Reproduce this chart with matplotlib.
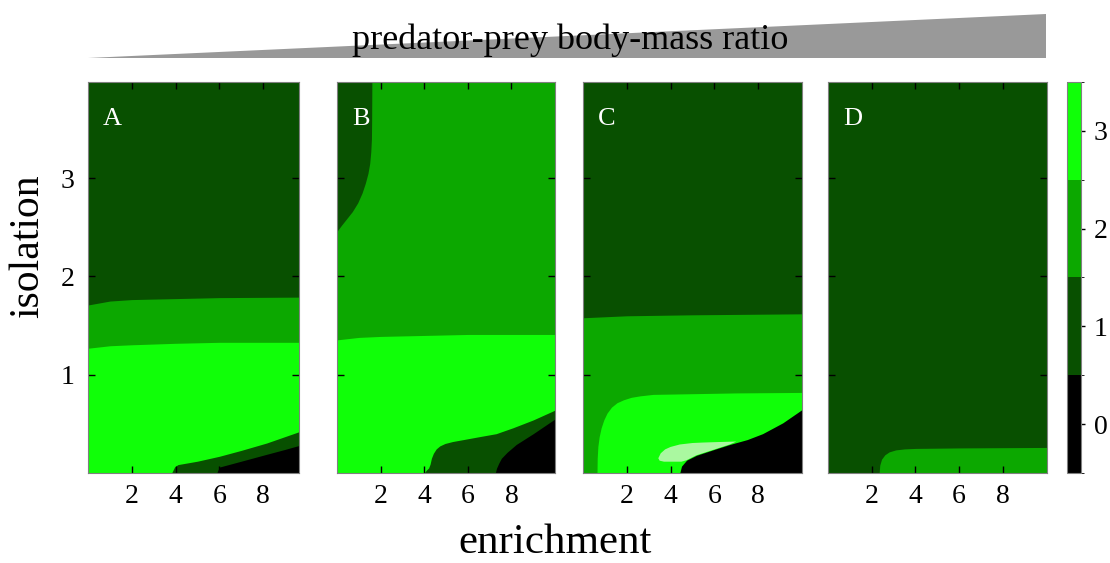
import matplotlib
matplotlib.use("Agg")
import matplotlib.pyplot as plt
import numpy as np
from matplotlib.colors import ListedColormap, BoundaryNorm
from matplotlib.cm import ScalarMappable
from matplotlib.patches import Polygon

plt.rcParams.update({'font.family': 'Liberation Serif', 'font.size': 20})

# level colours: 0 = black, 1 = dark green, 2 = mid green, 3 = bright green, 4 = pale green
level_colors = ['#000000', '#085000', '#0ca800', '#10ff08', '#aaf8a0']
level_ticks = [0, 1, 2, 3]

panel_names = ['A', 'B', 'C', 'D']
x_max = [9.64, 10.0, 10.0, 10.0]
y_max = 3.98
x_ticks = [2, 4, 6, 8]
y_ticks = [1, 2, 3]

# --- panel A ---
a_bg = 1
a_l2_x = [0, 1, 2, 4, 6, 9.64]
a_l2_y = [1.71, 1.75, 1.765, 1.775, 1.785, 1.79]
a_l3_x = [0, 1, 2, 4, 6, 9.64]
a_l3_y = [1.27, 1.295, 1.305, 1.32, 1.33, 1.33]
a_l1_x = [3.82, 3.95, 4.1, 5.0, 6.0, 7.0, 8.16, 9.64]
a_l1_y = [0.0, 0.06, 0.085, 0.12, 0.17, 0.23, 0.305, 0.42]
a_l0_x = [5.88, 6.0, 7.0, 8.16, 9.0, 9.64]
a_l0_y = [0.0, 0.06, 0.12, 0.19, 0.24, 0.28]

# --- panel B ---
b_bg = 2
b_top1_x = [0, 0.2, 0.45, 0.7, 0.95, 1.15, 1.3, 1.42, 1.5, 1.55, 1.58, 1.59, 1.6]
b_top1_y = [2.46, 2.52, 2.59, 2.66, 2.75, 2.85, 2.95, 3.05, 3.15, 3.27, 3.4, 3.6, 3.98]
b_l3_x = [0, 1, 2, 4, 6, 10]
b_l3_y = [1.355, 1.38, 1.39, 1.40, 1.41, 1.41]
b_l1_x = [4.0, 4.1, 4.2, 4.27, 4.33, 4.42, 4.55, 4.71, 4.95, 5.3, 5.8, 6.54, 7.3, 8.07, 9.0, 10.0]
b_l1_y = [0.0, 0.03, 0.05, 0.09, 0.15, 0.2, 0.245, 0.275, 0.3, 0.32, 0.34, 0.37, 0.40, 0.46, 0.54, 0.64]
b_l0_x = [7.26, 7.32, 7.42, 7.54, 7.8, 8.22, 9.0, 10.0]
b_l0_y = [0.0, 0.05, 0.1, 0.15, 0.21, 0.29, 0.40, 0.55]

# --- panel C ---
c_bg = 1
c_l2_x = [0, 2, 5, 10]
c_l2_y = [1.58, 1.60, 1.61, 1.62]
c_l3_x = [0.64, 0.65, 0.68, 0.74, 0.83, 0.95, 1.1, 1.3, 1.55, 1.85, 2.2, 2.6, 3.2, 4.5, 7.0, 10.0]
c_l3_y = [0.0, 0.15, 0.27, 0.37, 0.46, 0.54, 0.61, 0.67, 0.715, 0.745, 0.77, 0.785, 0.80, 0.805, 0.815, 0.82]
c_l4_x = [3.44, 3.55, 3.75, 4.0, 4.42, 5.0, 5.5, 6.2, 7.0, 6.7, 5.18, 4.73, 4.5, 3.7, 3.5]
c_l4_y = [0.15, 0.2, 0.24, 0.265, 0.29, 0.305, 0.31, 0.315, 0.32, 0.29, 0.18, 0.13, 0.115, 0.115, 0.125]
c_l0_x = [4.42, 4.5, 4.73, 5.18, 6.0, 6.7, 7.5, 8.2, 9.12, 10.0]
c_l0_y = [0.0, 0.07, 0.13, 0.18, 0.24, 0.29, 0.34, 0.40, 0.51, 0.645]

# --- panel D ---
d_bg = 1
d_l2_x = [2.34, 2.37, 2.45, 2.6, 2.8, 3.1, 3.5, 4.0, 6.0, 10.0]
d_l2_y = [0.0, 0.08, 0.14, 0.185, 0.215, 0.235, 0.245, 0.25, 0.255, 0.26]

fig = plt.figure(figsize=(11.1, 5.63), dpi=100)

lefts = [0.0793, 0.3036, 0.5252, 0.7459]
widths = [0.1901, 0.1964, 0.1973, 0.1970]
bottom, height = 0.1599, 0.6945
axes = [fig.add_axes([l, bottom, w, height]) for l, w in zip(lefts, widths)]


def fill_below(ax, x, y, lvl):
    ax.fill_between(x, 0, y, color=level_colors[lvl], lw=0, zorder=1)


def fill_above(ax, x, y, lvl):
    ax.fill_between(x, y, y_max, color=level_colors[lvl], lw=0, zorder=1)


def background(ax, lvl, xm):
    ax.fill_between([0, xm], 0, y_max, color=level_colors[lvl], lw=0, zorder=0)


axA, axB, axC, axD = axes

background(axA, a_bg, x_max[0])
fill_below(axA, a_l2_x, a_l2_y, 2)
fill_below(axA, a_l3_x, a_l3_y, 3)
fill_below(axA, a_l1_x, a_l1_y, 1)
fill_below(axA, a_l0_x, a_l0_y, 0)

background(axB, b_bg, x_max[1])
fill_above(axB, b_top1_x, b_top1_y, 1)
fill_below(axB, b_l3_x, b_l3_y, 3)
fill_below(axB, b_l1_x, b_l1_y, 1)
fill_below(axB, b_l0_x, b_l0_y, 0)

background(axC, c_bg, x_max[2])
fill_below(axC, c_l2_x, c_l2_y, 2)
fill_below(axC, c_l3_x, c_l3_y, 3)
axC.fill(c_l4_x, c_l4_y, color=level_colors[4], lw=0, zorder=1)
fill_below(axC, c_l0_x, c_l0_y, 0)

background(axD, d_bg, x_max[3])
fill_below(axD, d_l2_x, d_l2_y, 2)

for i, ax in enumerate(axes):
    ax.set_xlim(0, x_max[i])
    ax.set_ylim(0, y_max)
    ax.set_xticks(x_ticks)
    ax.set_yticks(y_ticks)
    ax.tick_params(direction='in', top=True, right=True, length=5, width=1,
                   color='black', labelsize=20)
    ax.tick_params(axis='x', pad=8)
    ax.tick_params(axis='y', pad=10)
    if i > 0:
        ax.set_yticklabels([])
    for sp in ax.spines.values():
        sp.set_color('#808080')
        sp.set_linewidth(0.8)
        sp.set_zorder(5)
    ax.text(0.07, 0.905, panel_names[i], transform=ax.transAxes, color='white',
            fontsize=19, ha='left', va='center', zorder=6)

# colour scale for levels 0..3
cmap = ListedColormap(level_colors[:4])
norm = BoundaryNorm([-0.5, 0.5, 1.5, 2.5, 3.5], cmap.N)
cax = fig.add_axes([0.9613, bottom, 0.0126, height])
cb = fig.colorbar(ScalarMappable(norm=norm, cmap=cmap), cax=cax, ticks=level_ticks)
cb.outline.set_edgecolor('#808080')
cb.outline.set_linewidth(0.8)
cax.tick_params(length=3, width=1, labelsize=20, pad=6)

# wedge showing increasing body-mass ratio
wedge = Polygon([[0.0793, 0.897], [0.9423, 0.897], [0.9423, 0.975]],
                closed=True, transform=fig.transFigure, facecolor='#999999',
                edgecolor='none')
fig.patches.append(wedge)
fig.text(0.5135, 0.929, 'predator-prey body-mass ratio', ha='center', va='center',
         fontsize=26)

fig.text(0.025, 0.563, 'isolation', rotation=90, ha='center', va='center', fontsize=30)
fig.text(0.5, 0.017, 'enrichment', ha='center', va='baseline', fontsize=31)

fig.savefig('out.png', dpi=100)
